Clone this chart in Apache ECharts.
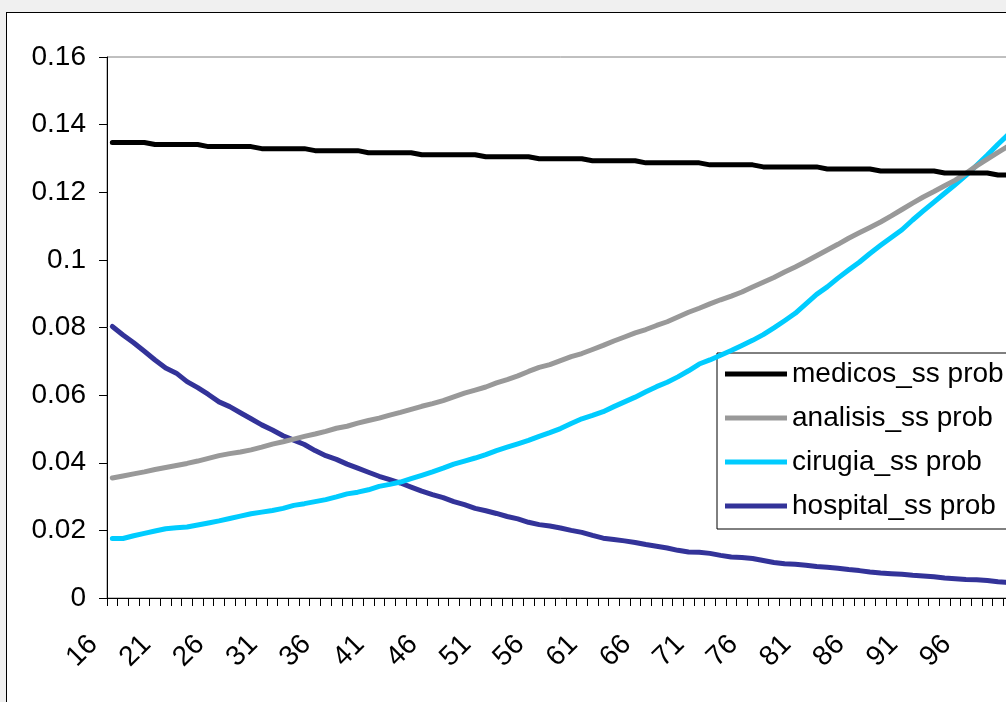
<!DOCTYPE html>
<html>
<head>
<meta charset="utf-8">
<script src="https://cdn.jsdelivr.net/npm/echarts@6/dist/echarts.min.js"></script>
<style>
  html, body { margin: 0; padding: 0; background: #f0f0f0; overflow: hidden; width: 1006px; height: 702px; }
  #frame { position: absolute; left: 6px; top: 12px; width: 1060px; height: 720px; background: #ffffff; border-left: 1px solid #000; border-top: 1px solid #000; }
  #chart { position: absolute; left: 0; top: 0; width: 1060px; height: 720px; }
</style>
</head>
<body>
<div id="frame"><div id="chart"></div></div>
<script>
const ages = ["16","17","18","19","20","21","22","23","24","25","26","27","28","29","30","31","32","33","34","35","36","37","38","39","40","41","42","43","44","45","46","47","48","49","50","51","52","53","54","55","56","57","58","59","60","61","62","63","64","65","66","67","68","69","70","71","72","73","74","75","76","77","78","79","80","81","82","83","84","85","86","87","88","89","90","91","92","93","94","95","96","97","98","99","100"];

const medicos = [
  0.1347,0.1347,0.1347,0.1347,
  0.1341,0.1341,0.1341,0.1341,0.1341,
  0.1335,0.1335,0.1335,0.1335,0.1335,
  0.1329,0.1329,0.1329,0.1329,0.1329,
  0.1323,0.1323,0.1323,0.1323,0.1323,
  0.1317,0.1317,0.1317,0.1317,0.1317,
  0.1311,0.1311,0.1311,0.1311,0.1311,0.1311,
  0.1305,0.1305,0.1305,0.1305,0.1305,
  0.1299,0.1299,0.1299,0.1299,0.1299,
  0.1293,0.1293,0.1293,0.1293,0.1293,
  0.1287,0.1287,0.1287,0.1287,0.1287,0.1287,
  0.1281,0.1281,0.1281,0.1281,0.1281,
  0.1275,0.1275,0.1275,0.1275,0.1275,0.1275,
  0.1269,0.1269,0.1269,0.1269,0.1269,
  0.1263,0.1263,0.1263,0.1263,0.1263,0.1263,
  0.1257,0.1257,0.1257,0.1257,0.1257,
  0.1251,0.1251
];

const analisis = [
  0.0355,0.0361,0.0367,0.0373,0.0380,0.0386,0.0392,0.0398,0.0405,0.0413,
  0.0421,0.0427,0.0432,0.0438,0.0446,0.0455,0.0462,0.0470,0.0478,0.0485,
  0.0493,0.0502,0.0508,0.0517,0.0525,0.0532,0.0541,0.0549,0.0558,0.0567,
  0.0575,0.0584,0.0595,0.0606,0.0615,0.0624,0.0636,0.0646,0.0657,0.0670,
  0.0682,0.0690,0.0702,0.0714,0.0723,0.0735,0.0747,0.0760,0.0772,0.0784,
  0.0794,0.0806,0.0817,0.0831,0.0845,0.0857,0.0870,0.0882,0.0893,0.0905,
  0.0920,0.0934,0.0948,0.0964,0.0979,0.0995,0.1012,0.1029,0.1046,0.1064,
  0.1080,0.1096,0.1112,0.1130,0.1149,0.1168,0.1186,0.1202,0.1219,0.1236,
  0.1256,0.1278,0.1298,0.1318,0.1337
];

const cirugia = [
  0.0176,0.0176,0.0184,0.0191,0.0198,0.0205,0.0208,0.0210,0.0216,0.0222,
  0.0228,0.0235,0.0242,0.0249,0.0254,0.0259,0.0265,0.0274,0.0279,0.0285,
  0.0291,0.0299,0.0308,0.0313,0.0320,0.0330,0.0336,0.0343,0.0353,0.0363,
  0.0373,0.0384,0.0396,0.0405,0.0414,0.0424,0.0436,0.0446,0.0456,0.0466,
  0.0478,0.0489,0.0501,0.0516,0.0530,0.0540,0.0551,0.0566,0.0580,0.0594,
  0.0610,0.0625,0.0638,0.0654,0.0672,0.0692,0.0704,0.0718,0.0732,0.0747,
  0.0762,0.0779,0.0799,0.0820,0.0842,0.0870,0.0898,0.0920,0.0946,0.0970,
  0.0993,0.1019,0.1043,0.1066,0.1089,0.1118,0.1145,0.1171,0.1197,0.1223,
  0.1250,0.1280,0.1310,0.1342,0.1372
];

const hospital = [
  0.0803,0.0778,0.0755,0.0730,0.0704,0.0680,0.0665,0.0640,0.0622,0.0602,
  0.0580,0.0566,0.0548,0.0530,0.0512,0.0497,0.0480,0.0467,0.0454,0.0436,
  0.0421,0.0410,0.0396,0.0384,0.0372,0.0360,0.0350,0.0340,0.0328,0.0316,
  0.0306,0.0297,0.0285,0.0276,0.0265,0.0258,0.0250,0.0241,0.0234,0.0224,
  0.0217,0.0213,0.0207,0.0200,0.0194,0.0185,0.0177,0.0173,0.0169,0.0164,
  0.0158,0.0153,0.0148,0.0141,0.0136,0.0135,0.0132,0.0126,0.0121,0.0120,
  0.0117,0.0111,0.0105,0.0101,0.0100,0.0097,0.0093,0.0091,0.0088,0.0084,
  0.0081,0.0077,0.0074,0.0072,0.0070,0.0067,0.0065,0.0063,0.0059,0.0057,
  0.0055,0.0054,0.0052,0.0048,0.0046
];

const seriesNames = ["medicos_ss prob", "analisis_ss prob", "cirugia_ss prob", "hospital_ss prob"];
const seriesColors = ["#000000", "#999999", "#00ccff", "#333399"];
const seriesData = [medicos, analisis, cirugia, hospital];

const FONT = "'Liberation Sans', Arial, sans-serif";
const chart = echarts.init(document.getElementById('chart'), null, { renderer: 'canvas' });

chart.setOption({
  animation: false,
  backgroundColor: '#ffffff',
  grid: {
    left: 100, top: 44, width: 907, height: 541,
    show: true, borderColor: '#808080', borderWidth: 1, backgroundColor: 'transparent'
  },
  legend: {
    orient: 'vertical',
    left: 710, top: 340,
    data: seriesNames.map(n => ({ name: n, icon: 'rect' })),
    itemWidth: 62, itemHeight: 5, itemGap: 14,
    backgroundColor: '#ffffff',
    borderColor: '#000000', borderWidth: 1, borderRadius: 0,
    padding: [6, 40, 8, 8],
    textStyle: { fontFamily: FONT, fontSize: 28, color: '#000', lineHeight: 30 }
  },
  xAxis: {
    type: 'category',
    data: ages,
    boundaryGap: true,
    axisLine: { show: true, lineStyle: { color: '#000', width: 1 } },
    axisTick: { show: true, interval: 0, length: 8, alignWithLabel: false, lineStyle: { color: '#000', width: 1 } },
    axisLabel: { interval: 4, rotate: 45, fontFamily: FONT, fontSize: 28, color: '#000', margin: 23, padding: [0, 27, 0, 0] },
    splitLine: { show: false }
  },
  yAxis: {
    type: 'value',
    min: 0, max: 0.16, interval: 0.02,
    axisLine: { show: true, lineStyle: { color: '#000', width: 1 } },
    axisTick: { show: true, length: 8, lineStyle: { color: '#000', width: 1 } },
    axisLabel: { fontFamily: FONT, fontSize: 28, color: '#000', margin: 21 },
    splitLine: { show: false }
  },
  series: seriesNames.map((n, k) => ({
    name: n,
    type: 'line',
    data: seriesData[k],
    symbol: 'none',
    smooth: false,
    color: seriesColors[k],
    itemStyle: { color: seriesColors[k] },
    lineStyle: { color: seriesColors[k], width: 5, join: 'round', cap: 'round' },
    z: 10 - k
  }))
});
</script>
</body>
</html>
